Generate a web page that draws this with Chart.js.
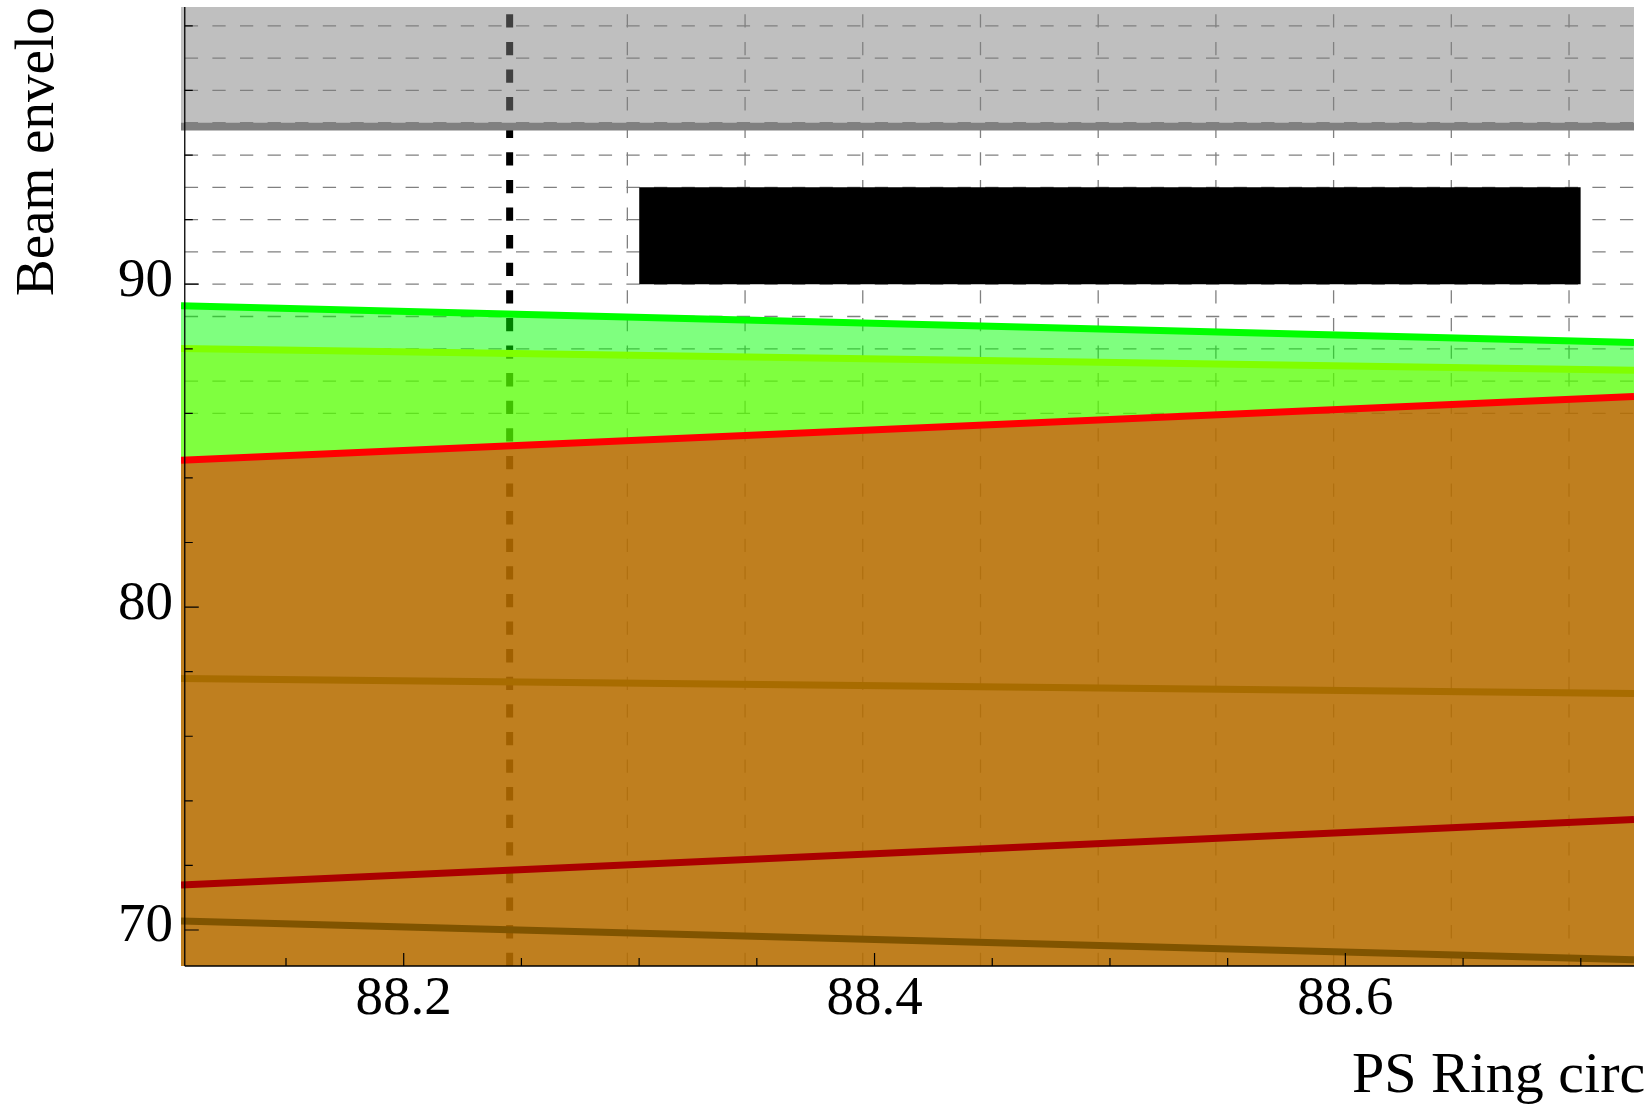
<!DOCTYPE html>
<html>
<head>
<meta charset="utf-8">
<script src="https://cdn.jsdelivr.net/npm/chart.js@4.4.1/dist/chart.umd.min.js"></script>
<style>
  html, body { margin: 0; padding: 0; background: #fff; overflow: hidden; }
  #wrap { width: 1645px; height: 1105px; }
</style>
</head>
<body>
<div id="wrap"><canvas id="c" width="1645" height="1105"></canvas></div>
<script>
// Ring position along the PS circumference (m)
const circumference = [88.1054, 88.7226];

// Beam envelope curves (mm) at the two ends of the window
const envGreen       = [89.334, 88.198];
const envYellowGreen = [88.012, 87.337];
const envRed         = [84.551, 86.520];
const envOrange      = [77.790, 77.325];
const envDarkRed     = [71.393, 73.424];
const envBrown       = [70.280, 69.080];

// Vacuum chamber aperture edge (shaded above) and a magnet block
const apertureEdge = [94.88, 94.88];
const blockX = [88.3, 88.7];
const blockTop = [93, 93];
const blockBottom = 90;

// Element position marker
const markerX = 88.245;

// Axis ranges
const X_MIN = 88.1054, X_MAX = 88.7226;
const Y_MIN = 68.885,  Y_MAX = 98.585;
const AXIS_CROSS_X = 88.107;

// Ticks and grid
const xMajorTicks = [88.2, 88.4, 88.6];
const xMinorTicks = [88.15, 88.25, 88.3, 88.35, 88.45, 88.5, 88.55, 88.65, 88.7];
const yMajorTicks = [70, 80, 90];
const yMinorTicks = [72, 74, 76, 78, 82, 84, 86, 88, 92, 94, 96, 98];
const hGrid = [86, 87, 88, 89, 90, 91, 92, 93, 94, 95, 96, 97, 98];
const vGrid = [88.295, 88.345, 88.395, 88.445, 88.495, 88.545, 88.595, 88.645, 88.695];

const FONT = '"Liberation Serif", "Times New Roman", serif';

function pts(xs, ys) { return xs.map((x, i) => ({ x, y: ys[i] })); }

function lineSet(ys, color, fill, fillColor) {
  return {
    data: pts(circumference, ys),
    borderColor: color,
    borderWidth: 7,
    backgroundColor: fillColor || 'transparent',
    fill: fill || false,
    pointRadius: 0,
    showLine: true
  };
}

function noPad(s) {
  s.paddingTop = 0; s.paddingBottom = 0; s.paddingLeft = 0; s.paddingRight = 0;
}

const decor = {
  id: 'decor',
  beforeDraw(chart) {
    const { ctx, chartArea: a, scales: { x, y } } = chart;
    ctx.save();
    ctx.fillStyle = '#fff';
    ctx.fillRect(0, 0, chart.width, chart.height);
    const ax = x.getPixelForValue(AXIS_CROSS_X);
    ctx.strokeStyle = '#808080';
    ctx.lineWidth = 1.3;
    ctx.setLineDash([13.3, 14.3]);
    for (const v of hGrid) {
      const py = y.getPixelForValue(v);
      ctx.beginPath(); ctx.moveTo(ax, py); ctx.lineTo(a.right, py); ctx.stroke();
    }
    for (const v of vGrid) {
      const px = x.getPixelForValue(v);
      ctx.beginPath(); ctx.moveTo(px, a.bottom); ctx.lineTo(px, a.top); ctx.stroke();
    }
    ctx.strokeStyle = '#000';
    ctx.lineWidth = 7;
    const mx = x.getPixelForValue(markerX);
    ctx.beginPath(); ctx.moveTo(mx, a.bottom); ctx.lineTo(mx, a.top); ctx.stroke();
    ctx.restore();
  },
  afterDatasetsDraw(chart) {
    const { ctx, chartArea: a, scales: { x, y } } = chart;
    const ax = x.getPixelForValue(AXIS_CROSS_X);
    ctx.save();
    ctx.strokeStyle = '#000';
    ctx.lineWidth = 1.3;
    ctx.beginPath();
    ctx.moveTo(ax, a.top); ctx.lineTo(ax, a.bottom);
    ctx.moveTo(ax, a.bottom); ctx.lineTo(a.right, a.bottom);
    ctx.stroke();
    ctx.lineWidth = 1.2;
    ctx.beginPath();
    for (const v of yMajorTicks) { const py = y.getPixelForValue(v); ctx.moveTo(ax, py); ctx.lineTo(ax + 14, py); }
    for (const v of yMinorTicks) { const py = y.getPixelForValue(v); ctx.moveTo(ax, py); ctx.lineTo(ax + 8, py); }
    for (const v of xMajorTicks) { const px = x.getPixelForValue(v); ctx.moveTo(px, a.bottom); ctx.lineTo(px, a.bottom - 13); }
    for (const v of xMinorTicks) { const px = x.getPixelForValue(v); ctx.moveTo(px, a.bottom); ctx.lineTo(px, a.bottom - 8); }
    ctx.stroke();
    ctx.restore();
  },
  afterDraw(chart) {
    const { ctx } = chart;
    ctx.save();
    ctx.fillStyle = '#000';
    ctx.font = '55px ' + FONT;
    ctx.textBaseline = 'alphabetic';
    ctx.textAlign = 'left';
    ctx.save();
    ctx.beginPath(); ctx.rect(0, 6.5, chart.width, chart.height); ctx.clip();
    ctx.translate(53, 296);
    ctx.rotate(-Math.PI / 2);
    ctx.fillText('Beam envelo', 0, 0);
    ctx.restore();
    ctx.font = '58px ' + FONT;
    ctx.fillText('PS Ring circ', 1352, 1092);
    ctx.restore();
  }
};

function build() {
  new Chart(document.getElementById('c'), {
    type: 'scatter',
    data: {
      datasets: [
        // magnet block
        { data: pts(blockX, blockTop), borderWidth: 0, borderColor: '#000', backgroundColor: '#000',
          fill: { value: blockBottom }, pointRadius: 0, showLine: true },
        // aperture
        { data: pts(circumference, apertureEdge), borderColor: '#808080', borderWidth: 7.7,
          backgroundColor: 'rgba(128,128,128,0.5)', fill: 'end', pointRadius: 0, showLine: true },
        lineSet(envRed, '#ff0000', 'start', 'rgba(255,0,0,0.5)'),
        lineSet(envYellowGreen, '#80ff00', 'start', 'rgba(128,255,0,0.5)'),
        lineSet(envGreen, '#00ff00', 'start', 'rgba(0,255,0,0.5)'),
        lineSet(envOrange, '#a86c00'),
        lineSet(envDarkRed, '#aa0000'),
        lineSet(envBrown, '#805400')
      ]
    },
    options: {
      responsive: false,
      animation: false,
      devicePixelRatio: 1,
      layout: { padding: { top: 7, right: 11, left: 0, bottom: 0 } },
      elements: { line: { tension: 0, borderCapStyle: 'butt' }, point: { radius: 0 } },
      plugins: {
        legend: { display: false },
        tooltip: { enabled: false },
        filler: { drawTime: 'beforeDatasetsDraw' }
      },
      scales: {
        x: {
          type: 'linear', min: X_MIN, max: X_MAX,
          grid: { display: false, drawTicks: false },
          border: { display: false },
          afterBuildTicks: s => { s.ticks = xMajorTicks.map(v => ({ value: v })); },
          afterFit: s => { s.height = 139; noPad(s); },
          ticks: { font: { family: FONT, size: 55 }, color: '#000', padding: 1,
                   maxRotation: 0, autoSkip: false, callback: v => Number(v).toFixed(1) }
        },
        y: {
          type: 'linear', min: Y_MIN, max: Y_MAX,
          grid: { display: false, drawTicks: false },
          border: { display: false },
          afterBuildTicks: s => { s.ticks = yMajorTicks.map(v => ({ value: v })); },
          afterFit: s => { s.width = 181; noPad(s); },
          ticks: { font: { family: FONT, size: 55 }, color: '#000', padding: 8, labelOffset: -3,
                   autoSkip: false, callback: v => String(v) }
        }
      }
    },
    plugins: [decor]
  });
}

if (document.fonts && document.fonts.load) {
  document.fonts.load('55px "Liberation Serif"').then(build, build);
} else {
  build();
}
</script>
</body>
</html>
